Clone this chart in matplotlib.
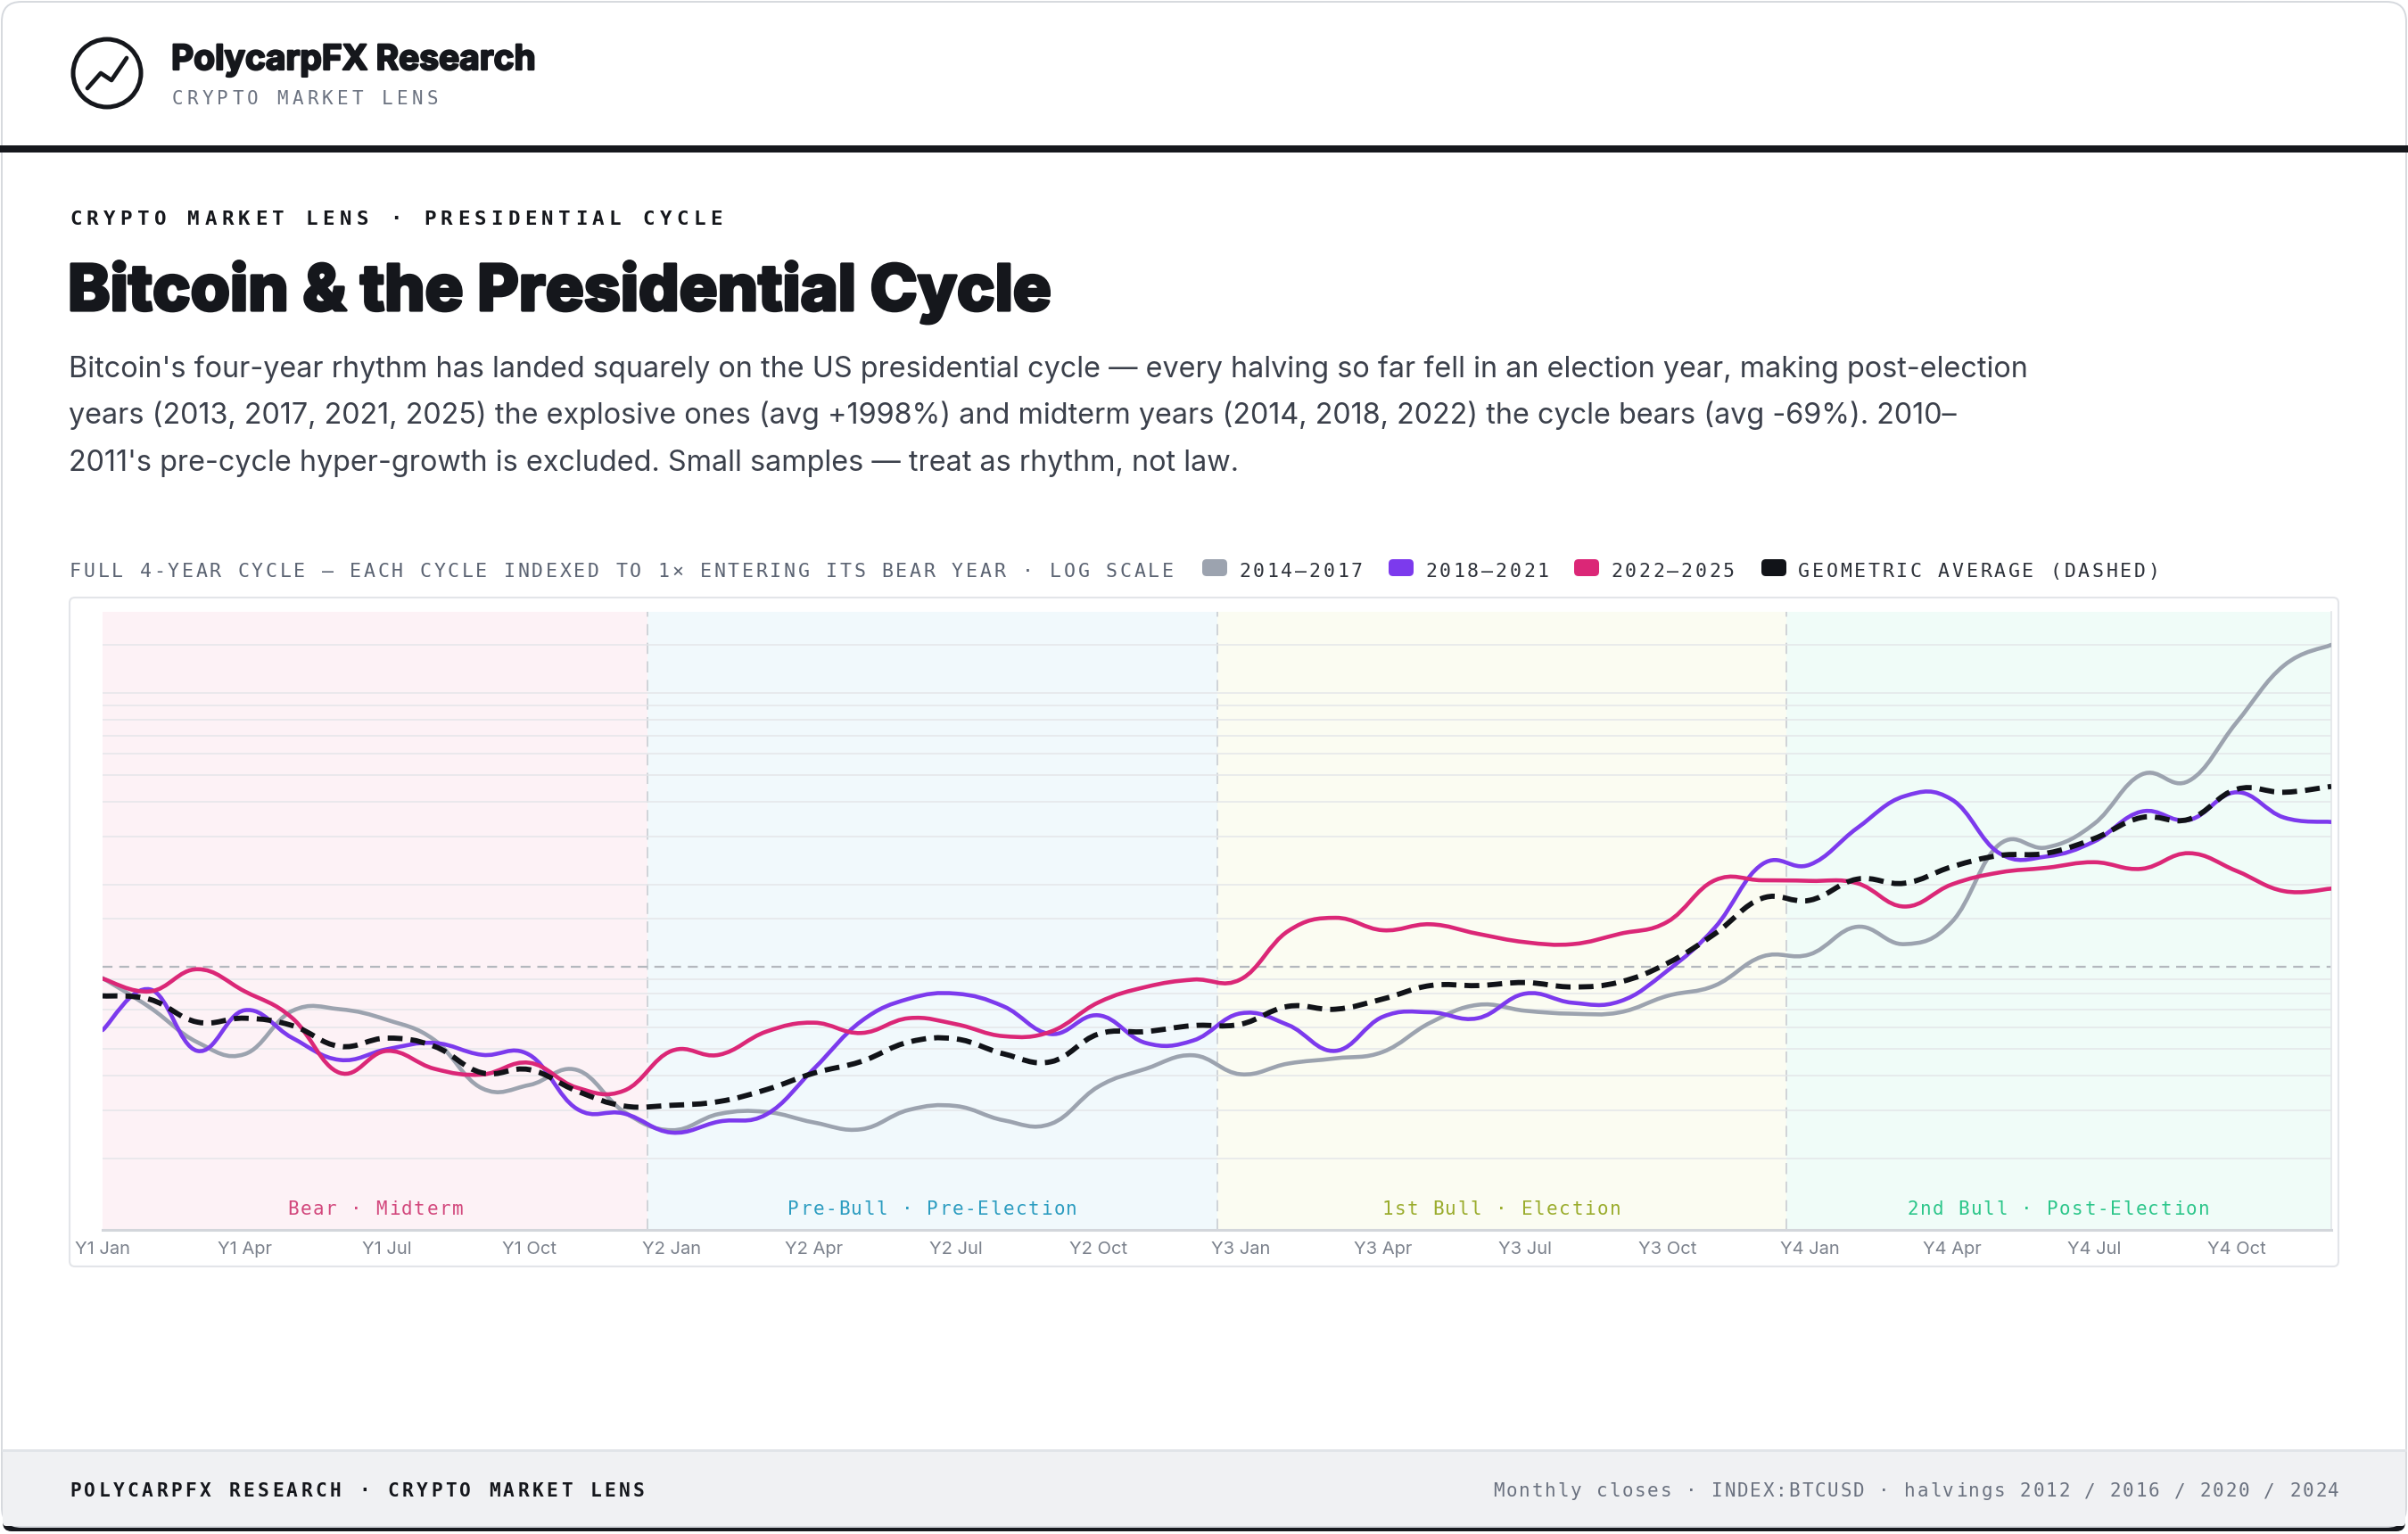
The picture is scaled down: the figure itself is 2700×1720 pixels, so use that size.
import numpy as np
from matplotlib import pyplot as plt
from matplotlib import patheffects
from matplotlib.path import Path
from matplotlib.patches import PathPatch, FancyBboxPatch, Circle, Rectangle

plt.rcParams['lines.scale_dashes'] = False

W, H = 2700, 1720

months = list(range(48))
tick_months = months[::3]
tick_labels = ['Y1 Jan', 'Y1 Apr', 'Y1 Jul', 'Y1 Oct', 'Y2 Jan', 'Y2 Apr', 'Y2 Jul', 'Y2 Oct',
               'Y3 Jan', 'Y3 Apr', 'Y3 Jul', 'Y3 Oct', 'Y4 Jan', 'Y4 Apr', 'Y4 Jul', 'Y4 Oct']

# multiple of the close entering the bear year, one value per month
cycle_2014 = [0.91, 0.71, 0.53, 0.48, 0.69, 0.70, 0.64, 0.54, 0.36, 0.37, 0.42, 0.295,
              0.253, 0.29, 0.295, 0.27, 0.255, 0.30, 0.31, 0.275, 0.267, 0.365, 0.424, 0.475,
              0.405, 0.443, 0.463, 0.489, 0.625, 0.726, 0.691, 0.674, 0.682, 0.783, 0.854, 1.09,
              1.11, 1.40, 1.21, 1.46, 2.80, 2.73, 3.33, 5.04, 4.78, 7.8, 12.6, 15.0]
cycle_2018 = [0.587, 0.827, 0.493, 0.694, 0.55, 0.457, 0.50, 0.527, 0.477, 0.477, 0.303, 0.291,
              0.248, 0.272, 0.289, 0.424, 0.633, 0.764, 0.798, 0.717, 0.568, 0.665, 0.527, 0.538,
              0.676, 0.613, 0.493, 0.657, 0.682, 0.649, 0.798, 0.739, 0.748, 0.968, 1.39, 2.37,
              2.36, 3.21, 4.20, 4.08, 2.60, 2.53, 2.87, 3.69, 3.44, 4.34, 3.51, 3.38]
cycle_2022 = [0.905, 0.813, 0.98, 0.813, 0.65, 0.41, 0.493, 0.424, 0.404, 0.446, 0.362, 0.353,
              0.493, 0.477, 0.58, 0.625, 0.573, 0.649, 0.617, 0.558, 0.58, 0.741, 0.844, 0.898,
              0.90, 1.35, 1.51, 1.36, 1.43, 1.32, 1.23, 1.21, 1.32, 1.46, 2.07, 2.07,
              2.06, 2.02, 1.66, 2.0, 2.21, 2.30, 2.41, 2.28, 2.60, 2.24, 1.89, 1.93]
geo_avg = [0.783, 0.76, 0.628, 0.649, 0.61, 0.512, 0.549, 0.512, 0.41, 0.421, 0.352, 0.31,
           0.312, 0.322, 0.356, 0.409, 0.451, 0.531, 0.545, 0.481, 0.45, 0.568, 0.58, 0.61,
           0.617, 0.717, 0.70, 0.763, 0.854, 0.854, 0.876, 0.844, 0.88, 1.03, 1.32, 1.78,
           1.75, 2.09, 2.02, 2.32, 2.55, 2.60, 2.94, 3.51, 3.46, 4.45, 4.34, 4.56]

series_names = ['2014–2017', '2018–2021', '2022–2025', 'GEOMETRIC AVERAGE (DASHED)']
series_colors = ['#9ca3af', '#7c3aed', '#db2777', '#111318']

phase_names = ['Bear · Midterm', 'Pre-Bull · Pre-Election', '1st Bull · Election', '2nd Bull · Post-Election']
phase_edges = [0, 11.5, 23.5, 35.5, 47]
phase_fill = ['#fdf2f6', '#f1f9fc', '#fbfcf2', '#f0fcf8']
phase_color = ['#d2477c', '#2b9cc0', '#9aac2c', '#2cc68a']

grid_levels = [0.2, 0.3, 0.4, 0.5, 0.6, 0.7, 0.8, 0.9, 1.5, 2, 3, 4, 5, 6, 7, 8, 9, 10, 15]

description = [
  "Bitcoin's four-year rhythm has landed squarely on the US presidential cycle — every halving so far fell in an election year, making post-election",
  "years (2013, 2017, 2021, 2025) the explosive ones (avg +1998%) and midterm years (2014, 2018, 2022) the cycle bears (avg -69%). 2010–",
  "2011's pre-cycle hyper-growth is excluded. Small samples — treat as rhythm, not law.",
]

MONO = 'DejaVu Sans Mono'
SANS = 'Inter'
INK = '#15171c'


def smooth_path(xs, ys, t=0.2):
  # bezier through the monthly points, control points taken in log space
  ly = np.log10(ys)
  pts = list(zip(xs, ly))
  n = len(pts)
  verts = [pts[0]]
  codes = [Path.MOVETO]
  for i in range(n - 1):
    p0 = np.array(pts[max(i - 1, 0)])
    p1 = np.array(pts[i])
    p2 = np.array(pts[i + 1])
    p3 = np.array(pts[min(i + 2, n - 1)])
    c1 = p1 + t * (p2 - p0)
    c2 = p2 - t * (p3 - p1)
    verts += [tuple(c1), tuple(c2), tuple(p2)]
    codes += [Path.CURVE4] * 3
  verts = [(x, 10 ** y) for x, y in verts]
  return Path(verts, codes)


fig = plt.figure(figsize=(W / 100, H / 100), dpi=100)
fig.patch.set_facecolor('white')


def pixel_axes(z):
  a = fig.add_axes([0, 0, 1, 1])
  a.set_xlim(0, W)
  a.set_ylim(H, 0)
  a.axis('off')
  a.set_zorder(z)
  return a


bg = pixel_axes(0)
top = pixel_axes(5)


def mono_text(x, y, s, pitch, size, color, weight='normal', align='left', on=None):
  on = on or bg
  adv = size * 100 / 72 * 0.602
  span = pitch * (len(s) - 1) + adv
  if align == 'center':
    x = x - span / 2
  elif align == 'right':
    x = x - span
  for i, ch in enumerate(s):
    if ch != ' ':
      on.text(x + i * pitch + adv / 2, y, ch, fontsize=size, family=MONO, color=color,
              weight=weight, ha='center', va='baseline')


# card, header rule, footer
bg.add_patch(FancyBboxPatch((3, 1696), W - 6, 21, boxstyle='round,pad=0,rounding_size=10',
                            fc='#16181d', ec='none'))
bg.add_patch(FancyBboxPatch((2, 2), W - 4, H - 10, boxstyle='round,pad=0,rounding_size=22',
                            fc='white', ec='#d6d9de', lw=1.4))
bg.add_patch(FancyBboxPatch((3, 1625), W - 6, 86, boxstyle='round,pad=0,rounding_size=4',
                            fc='#f0f1f3', ec='none'))
bg.plot([3, W - 3], [1626, 1626], color='#e1e4e8', lw=2)
bg.add_patch(Rectangle((0, 163), W, 8, fc='#16181d', ec='none'))

# logo
bg.add_patch(Circle((120, 82), 38, fill=False, ec=INK, lw=3.6))
bg.plot([98, 113, 125, 142], [99, 82, 90, 65], color=INK, lw=3.4, solid_capstyle='round',
        solid_joinstyle='round')

heavy = [patheffects.withStroke(linewidth=1.6, foreground=INK)]
bg.text(192, 78, 'PolycarpFX Research', fontsize=28, family=SANS, weight='bold', color=INK,
        va='baseline', path_effects=heavy)
mono_text(193, 117, 'CRYPTO MARKET LENS', 16.8, 15, '#6b7280')

mono_text(78, 252, 'CRYPTO MARKET LENS · PRESIDENTIAL CYCLE', 18.9, 16.2, INK, weight='bold')
bg.text(76, 348, 'Bitcoin & the Presidential Cycle', fontsize=51.5, family=SANS, weight='heavy',
        color=INK, va='baseline',
        path_effects=[patheffects.withStroke(linewidth=2.3, foreground=INK)])
for k, line in enumerate(description):
  bg.text(77, 423 + k * 52.5, line, fontsize=23.3, family=SANS, color='#3b404b', va='baseline')

# caption and legend
mono_text(78, 647, 'FULL 4-YEAR CYCLE — EACH CYCLE INDEXED TO 1× ENTERING ITS BEAR YEAR · LOG SCALE',
          15.7, 15.5, '#5b6372')
legend_x = [1348, 1557, 1765, 1975]
for name, color, lx in zip(series_names, series_colors, legend_x):
  bg.add_patch(FancyBboxPatch((lx, 627), 28, 19, boxstyle='round,pad=0,rounding_size=5',
                              fc=color, ec='none'))
  mono_text(lx + 41, 647, name, 15.7, 15.5, '#2d3139')

# chart frame
bg.add_patch(FancyBboxPatch((78, 670), 2544, 750, boxstyle='round,pad=0,rounding_size=6',
                            fc='white', ec='#e3e5e9', lw=1.5))

# footer text
mono_text(78, 1678, 'POLYCARPFX RESEARCH · CRYPTO MARKET LENS', 16.2, 15.2, INK, weight='bold')
mono_text(2623, 1678, 'Monthly closes · INDEX:BTCUSD · halvings 2012 / 2016 / 2020 / 2024',
          14.4, 15, '#6b7280', align='right')

# chart
ax = fig.add_axes([115 / W, 1 - 1379 / H, 2499 / W, 693 / H])
ax.set_zorder(2)
ax.patch.set_alpha(0)
ax.set_yscale('log')
ax.set_xlim(0, 47)
ax.set_ylim(0.1094, 19.8)

for k in range(4):
  ax.axvspan(phase_edges[k], phase_edges[k + 1], color=phase_fill[k], lw=0, zorder=0)
for edge in phase_edges[1:-1]:
  ax.axvline(edge, color='#c9cdd2', lw=1.2, linestyle=(0, (9, 6)), zorder=1)

ax.set_yticks(grid_levels)
ax.yaxis.set_minor_locator(plt.NullLocator())
ax.grid(axis='y', color='#e4e6e9', lw=1.2, alpha=0.9, zorder=1)
ax.axhline(1, color='#b4b8be', lw=1.6, linestyle=(0, (8, 5.5)), zorder=1.5)

for values, color in zip([cycle_2014, cycle_2018, cycle_2022], series_colors[:3]):
  ax.add_patch(PathPatch(smooth_path(months, values), fill=False, ec=color, lw=3.3,
                         capstyle='round', joinstyle='round', zorder=3))
ax.add_patch(PathPatch(smooth_path(months, geo_avg), fill=False, ec=series_colors[3], lw=4.2,
                       linestyle=(0, (12, 6.5)), zorder=4))

ax.set_xticks(tick_months)
ax.set_xticklabels(tick_labels)
ax.tick_params(axis='x', length=0, pad=9, labelsize=14.5, labelcolor='#7c828d')
ax.tick_params(axis='y', length=0, labelleft=False)
for label in ax.get_xticklabels():
  label.set_fontfamily(SANS)
for side in ['top', 'left']:
  ax.spines[side].set_visible(False)
ax.spines['bottom'].set_color('#d3d6db')
ax.spines['bottom'].set_linewidth(2.2)
ax.spines['right'].set_color('#e3e5e9')
ax.spines['right'].set_linewidth(1.2)

# phase labels, centred in each band
for k in range(4):
  mid = (phase_edges[k] + phase_edges[k + 1]) / 2
  cx = ax.transData.transform((mid, 1))[0]
  mono_text(cx, 1362, phase_names[k], 14.2, 15, phase_color[k], align='center', on=top)

fig.savefig('out.png', dpi=100)
